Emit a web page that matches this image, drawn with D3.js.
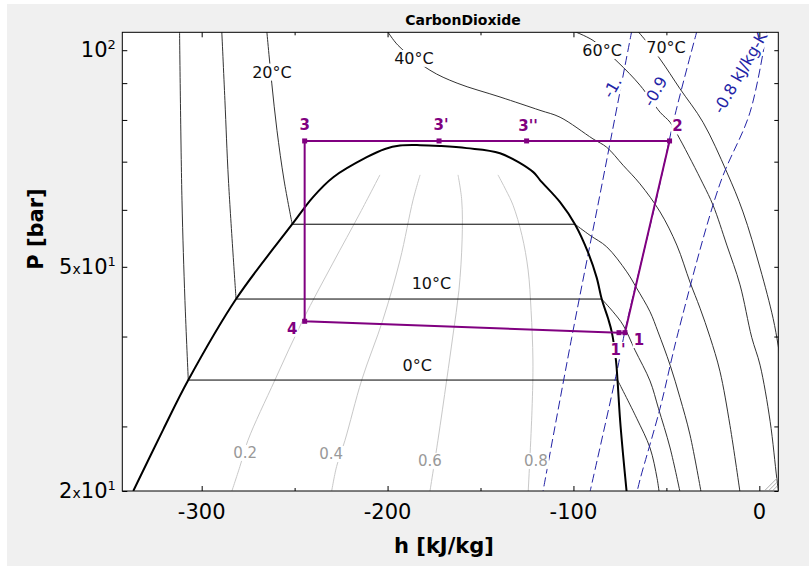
<!DOCTYPE html>
<html>
<head>
<meta charset="utf-8">
<script src="https://cdn.jsdelivr.net/npm/d3@7"></script>
<style>
  body { margin: 0; background: #fff; }
  svg { display: block; font-family: "DejaVu Sans", sans-serif; }
</style>
</head>
<body>
<div id="chart"></div>
<script>
// CO2 pressure-enthalpy diagram, h in kJ/kg, P in bar (log)
const hDomain = [-342.7, 10.2];
const pDomain = [24.4, 105.9];

const xTicks = [-300, -200, -100, 0];
const xMinorTicks = [-250, -150, -50];
const yMajorTicks = [24.4, 50, 100];
const yMinorTicks = [30, 40, 60, 70, 80, 90];
const yTickMult = ["2", "5", ""];
const yTickExp = ["1", "1", "2"];

// saturation dome
const dome = [
  [-336.8, 24.4], [-320.7, 29.7], [-307.2, 34.8], [-281.5, 45.1], [-251.3, 57.3],
  [-240.1, 62.5], [-229.2, 66.6], [-211.2, 71.0], [-201.4, 72.9], [-193.3, 73.7],
  [-182.5, 73.8], [-171.8, 73.6], [-157.4, 73.1], [-139.5, 71.9], [-121.6, 67.7],
  [-118.0, 66.0], [-107.2, 61.5], [-99.2, 57.3], [-92.2, 52.4], [-87.5, 48.3],
  [-84.8, 45.1], [-81.4, 42.4], [-79.4, 40.6], [-77.1, 37.0], [-76.3, 34.8],
  [-74.9, 30.6], [-73.3, 27.4], [-71.3, 24.2]
];

// isotherms: liquid branch, vapour branch (horizontal inside the dome)
const iso0Liquid = [[-311.9, 106.5], [-310.6, 61.9], [-309.0, 44.9], [-307.2, 34.8]];
const iso0Vapor = [[-76.3, 34.8], [-66.0, 30.8], [-58.8, 28.0], [-55.0, 25.4], [-53.8, 24.2]];
const iso10Liquid = [[-289.2, 106.5], [-287.5, 85.2], [-285.6, 66.0], [-281.5, 45.1]];
const iso10Vapor = [[-84.8, 45.1], [-78.7, 43.3], [-73.3, 41.5], [-66.9, 38.3], [-58.8, 34.7],
  [-54.3, 31.8], [-48.0, 28.0], [-42.5, 24.2]];
const iso20Liquid = [[-265.0, 106.5], [-262.3, 90.0], [-259.5, 77.4], [-255.7, 66.0], [-251.3, 57.3]];
const iso20Vapor = [[-99.2, 57.3], [-91.1, 55.3], [-82.1, 53.3], [-71.3, 49.2], [-66.0, 46.7],
  [-58.8, 43.3], [-54.5, 40.6], [-48.0, 36.5], [-42.7, 32.9], [-37.3, 29.2], [-31.2, 24.2]];
const iso40 = [[-200.3, 106.5], [-194.4, 101.6], [-177.2, 93.8], [-162.6, 90.0], [-139.5, 86.1],
  [-118.0, 82.5], [-107.2, 80.7], [-89.5, 75.3], [-82.1, 73.3], [-73.3, 69.2], [-64.2, 65.2],
  [-53.4, 59.6], [-44.4, 53.6], [-37.3, 47.6], [-31.9, 43.8], [-26.5, 39.9], [-21.2, 35.8],
  [-15.8, 30.1], [-10.3, 24.2]];
const iso60 = [[-100.8, 106.5], [-89.5, 103.2], [-76.0, 96.2], [-64.2, 89.4], [-53.4, 82.0],
  [-48.0, 79.4], [-42.7, 75.2], [-30.3, 65.2], [-24.9, 60.9], [-17.5, 53.6], [-10.4, 47.2],
  [-4.1, 39.9], [0.4, 36.5], [5.8, 30.5], [9.4, 25.4], [10.5, 24.2]];
const iso70 = [[-65.8, 106.5], [-63.1, 104.6], [-53.4, 97.2], [-42.7, 88.4], [-30.3, 79.4],
  [-17.5, 67.7], [-8.8, 59.6], [0.4, 49.8], [7.4, 42.4], [10.1, 38.9], [12.2, 35.9]];

// isentropes (kJ/kg-K)
const sM10 = [[-68.6, 106.5], [-84.6, 65.2], [-100.9, 39.9], [-116.6, 24.2]];
const sM09 = [[-33.5, 106.5], [-45.4, 81.2], [-54.5, 63.5], [-72.3, 40.7], [-76.0, 36.4], [-91.3, 24.2]];
const sM08 = [[4.0, 106.5], [-5.0, 82.0], [-21.2, 65.2], [-43.7, 40.5], [-53.4, 31.8], [-64.2, 25.3], [-66.0, 24.2]];

// vapour quality lines
const q02 = [[-204.1, 67.1], [-214.8, 59.4], [-229.4, 50.6], [-245.5, 42.2], [-260.6, 34.8],
  [-275.1, 28.7], [-279.4, 26.4], [-284.2, 24.2]];
const q04 = [[-182.5, 67.1], [-186.3, 61.9], [-193.3, 51.1], [-202.5, 42.2], [-213.9, 34.8],
  [-222.9, 28.7], [-227.4, 26.4], [-230.3, 24.2]];
const q06 = [[-162.1, 67.1], [-160.1, 61.9], [-159.9, 54.5], [-161.6, 46.4], [-164.8, 40.2],
  [-168.2, 34.8], [-172.9, 28.7], [-177.4, 24.2]];
const q08 = [[-140.6, 67.1], [-136.3, 63.9], [-132.5, 60.9], [-127.7, 55.3], [-124.4, 49.5],
  [-122.8, 43.5], [-121.8, 37.1], [-122.3, 31.6], [-124.4, 24.2]];

// refrigeration cycle states
const cycleNames = ["1", "2", "3''", "3'", "3", "4", "1'"];
const cycleH = [-72.3, -48.3, -125.2, -172.3, -244.6, -244.6, -75.5];
const cycleP = [40.5, 74.8, 74.8, 74.8, 74.8, 42.0, 40.5];
const cycleLabelDx = [14, 8, 1.5, 2, 0, -12.5, -1];
const cycleLabelDy = [7, -15, -15, -16.5, -16, 7, 17];

// annotations
const isoLabels = ["20°C", "40°C", "60°C", "70°C", "10°C", "0°C"];
const isoLabelH = [-262.2, -185.8, -84.6, -50.2, -176.4, -184.1];
const isoLabelP = [93.3, 97.5, 100.0, 100.8, 47.4, 36.5];
const qLabels = ["0.2", "0.4", "0.6", "0.8"];
const qLabelH = [-276.6, -230.4, -177.2, -120.2];
const qLabelP = [27.6, 27.5, 26.9, 26.9];
const sLabels = ["-1.", "-0.9", "-0.8 kJ/kg-K"];
const sLabelH = [-79.2, -56.1, -10.4];
const sLabelP = [88.8, 87.7, 93.2];

const width = 809, height = 566;
const plot = { left: 122.3, right: 778.3, top: 32.3, bottom: 491 };

const svg = d3.select("#chart").append("svg")
  .attr("width", width)
  .attr("height", height);

svg.append("rect").attr("width", width).attr("height", height).attr("fill", "#fff");
svg.append("rect").attr("x", 7).attr("y", 4).attr("width", width - 7).attr("height", height - 4)
  .attr("fill", "#f0f0f0");
svg.append("rect")
  .attr("x", plot.left).attr("y", plot.top)
  .attr("width", plot.right - plot.left).attr("height", plot.bottom - plot.top)
  .attr("fill", "#fff");

const x = d3.scaleLinear().domain(hDomain).range([plot.left, plot.right]);
const y = d3.scaleLog().domain(pDomain).range([plot.bottom, plot.top]);

svg.append("clipPath").attr("id", "clip").append("rect")
  .attr("x", plot.left).attr("y", plot.top)
  .attr("width", plot.right - plot.left).attr("height", plot.bottom - plot.top);

const g = svg.append("g").attr("clip-path", "url(#clip)");

const line = d3.line()
  .x(d => x(d[0]))
  .y(d => y(d[1]))
  .curve(d3.curveCatmullRom.alpha(0.5));

// quality lines
g.selectAll("path.q")
  .data([q02, q04, q06, q08])
  .enter().append("path")
  .attr("d", line)
  .attr("fill", "none")
  .attr("stroke", "#c8c8c8")
  .attr("stroke-width", 1);

// isotherms
const isoCurves = [iso0Liquid, iso0Vapor, iso10Liquid, iso10Vapor, iso20Liquid, iso20Vapor, iso40, iso60, iso70];
g.selectAll("path.iso")
  .data(isoCurves)
  .enter().append("path")
  .attr("d", line)
  .attr("fill", "none")
  .attr("stroke", "#333")
  .attr("stroke-width", 1);

// two-phase horizontals
const horizontals = [[iso0Liquid, iso0Vapor], [iso10Liquid, iso10Vapor], [iso20Liquid, iso20Vapor]];
g.selectAll("line.sat")
  .data(horizontals)
  .enter().append("line")
  .attr("x1", d => x(d[0][d[0].length - 1][0]))
  .attr("x2", d => x(d[1][0][0]))
  .attr("y1", d => y(d[1][0][1]))
  .attr("y2", d => y(d[1][0][1]))
  .attr("stroke", "#000")
  .attr("stroke-width", 1);

// isentropes
g.selectAll("path.s")
  .data([sM10, sM09, sM08])
  .enter().append("path")
  .attr("d", line)
  .attr("fill", "none")
  .attr("stroke", "#2323a6")
  .attr("stroke-width", 1)
  .attr("stroke-dasharray", "9,4");

// dome
g.append("path")
  .datum(dome)
  .attr("d", line)
  .attr("fill", "none")
  .attr("stroke", "#000")
  .attr("stroke-width", 2);

// cycle
const cyc = cycleNames.map((n, i) => [cycleH[i], cycleP[i]]);
g.append("path")
  .datum(cyc.concat([cyc[0]]))
  .attr("d", d3.line().x(d => x(d[0])).y(d => y(d[1])))
  .attr("fill", "none")
  .attr("stroke", "#800080")
  .attr("stroke-width", 2);

g.selectAll("rect.state")
  .data(cyc)
  .enter().append("rect")
  .attr("x", d => x(d[0]) - 2.5)
  .attr("y", d => y(d[1]) - 2.5)
  .attr("width", 5).attr("height", 5)
  .attr("fill", "#800080");

// label with white background
function addLabel(px, py, txt, size, color, weight, angle) {
  const lg = g.append("g").attr("transform", `translate(${px},${py}) rotate(${angle})`);
  const t = lg.append("text")
    .attr("text-anchor", "middle")
    .attr("dy", "0.36em")
    .attr("font-size", size)
    .attr("font-weight", weight)
    .attr("fill", color)
    .text(txt);
  const b = t.node().getBBox();
  lg.insert("rect", "text")
    .attr("x", b.x - 1).attr("y", b.y + 1)
    .attr("width", b.width + 2).attr("height", b.height - 2)
    .attr("fill", "#fff");
}

isoLabels.forEach((t, i) => addLabel(x(isoLabelH[i]), y(isoLabelP[i]), t, 16, "#111", "normal", 0));
qLabels.forEach((t, i) => addLabel(x(qLabelH[i]), y(qLabelP[i]), t, 15, "#999", "normal", 0));
sLabels.forEach((t, i) => addLabel(x(sLabelH[i]), y(sLabelP[i]), t, 16, "#2323a6", "normal", -60));
cycleNames.forEach((t, i) => addLabel(x(cycleH[i]) + cycleLabelDx[i], y(cycleP[i]) + cycleLabelDy[i],
  t, 15, "#800080", "bold", 0));

// resize grip
[5, 9, 13].forEach(k => {
  g.append("line")
    .attr("x1", plot.right - k).attr("y1", plot.bottom - 1)
    .attr("x2", plot.right - 1).attr("y2", plot.bottom - k)
    .attr("stroke", "#aaa");
});

// frame
svg.append("rect")
  .attr("x", plot.left).attr("y", plot.top)
  .attr("width", plot.right - plot.left).attr("height", plot.bottom - plot.top)
  .attr("fill", "none").attr("stroke", "#000").attr("stroke-width", 1);

// axes (ticks point inward)
function ticks(axis, tx, ty) {
  svg.append("g")
    .attr("transform", `translate(${tx},${ty})`)
    .call(axis)
    .call(a => a.select(".domain").remove())
    .call(a => a.selectAll("line").attr("stroke", "#000"));
}
ticks(d3.axisBottom(x).tickValues(xTicks).tickSize(-5).tickFormat(""), 0, plot.bottom);
ticks(d3.axisBottom(x).tickValues(xMinorTicks).tickSize(-3).tickFormat(""), 0, plot.bottom);
ticks(d3.axisTop(x).tickValues(xTicks).tickSize(-5).tickFormat(""), 0, plot.top);
ticks(d3.axisTop(x).tickValues(xMinorTicks).tickSize(-3).tickFormat(""), 0, plot.top);
ticks(d3.axisLeft(y).tickValues(yMajorTicks.concat(yMinorTicks)).tickSize(-5).tickFormat(""), plot.left, 0);
ticks(d3.axisRight(y).tickValues(yMajorTicks.concat(yMinorTicks)).tickSize(-4).tickFormat(""), plot.right, 0);

// x tick labels
svg.selectAll("text.xt")
  .data(xTicks)
  .enter().append("text")
  .attr("x", d => x(d))
  .attr("y", plot.bottom + 28)
  .attr("text-anchor", "middle")
  .attr("font-size", 21)
  .text(d => d);

// y tick labels
yMajorTicks.forEach((v, i) => {
  const t = svg.append("text")
    .attr("x", plot.left - 6.5)
    .attr("y", y(v) + 7)
    .attr("text-anchor", "end")
    .attr("font-size", 21);
  if (yTickMult[i]) {
    t.append("tspan").text(yTickMult[i]);
    t.append("tspan").attr("font-size", 14).text("x");
  }
  t.append("tspan").text("10");
  t.append("tspan").attr("font-size", 13).attr("dy", -8).text(yTickExp[i]);
});

// titles
svg.append("text")
  .attr("x", 463).attr("y", 25)
  .attr("text-anchor", "middle")
  .attr("font-size", 14).attr("font-weight", "bold")
  .text("CarbonDioxide");

svg.append("text")
  .attr("x", 444).attr("y", 553)
  .attr("text-anchor", "middle")
  .attr("font-size", 21).attr("font-weight", "bold")
  .text("h [kJ/kg]");

svg.append("text")
  .attr("transform", "translate(43,229) rotate(-90)")
  .attr("text-anchor", "middle")
  .attr("font-size", 21).attr("font-weight", "bold")
  .text("P [bar]");
</script>
</body>
</html>
